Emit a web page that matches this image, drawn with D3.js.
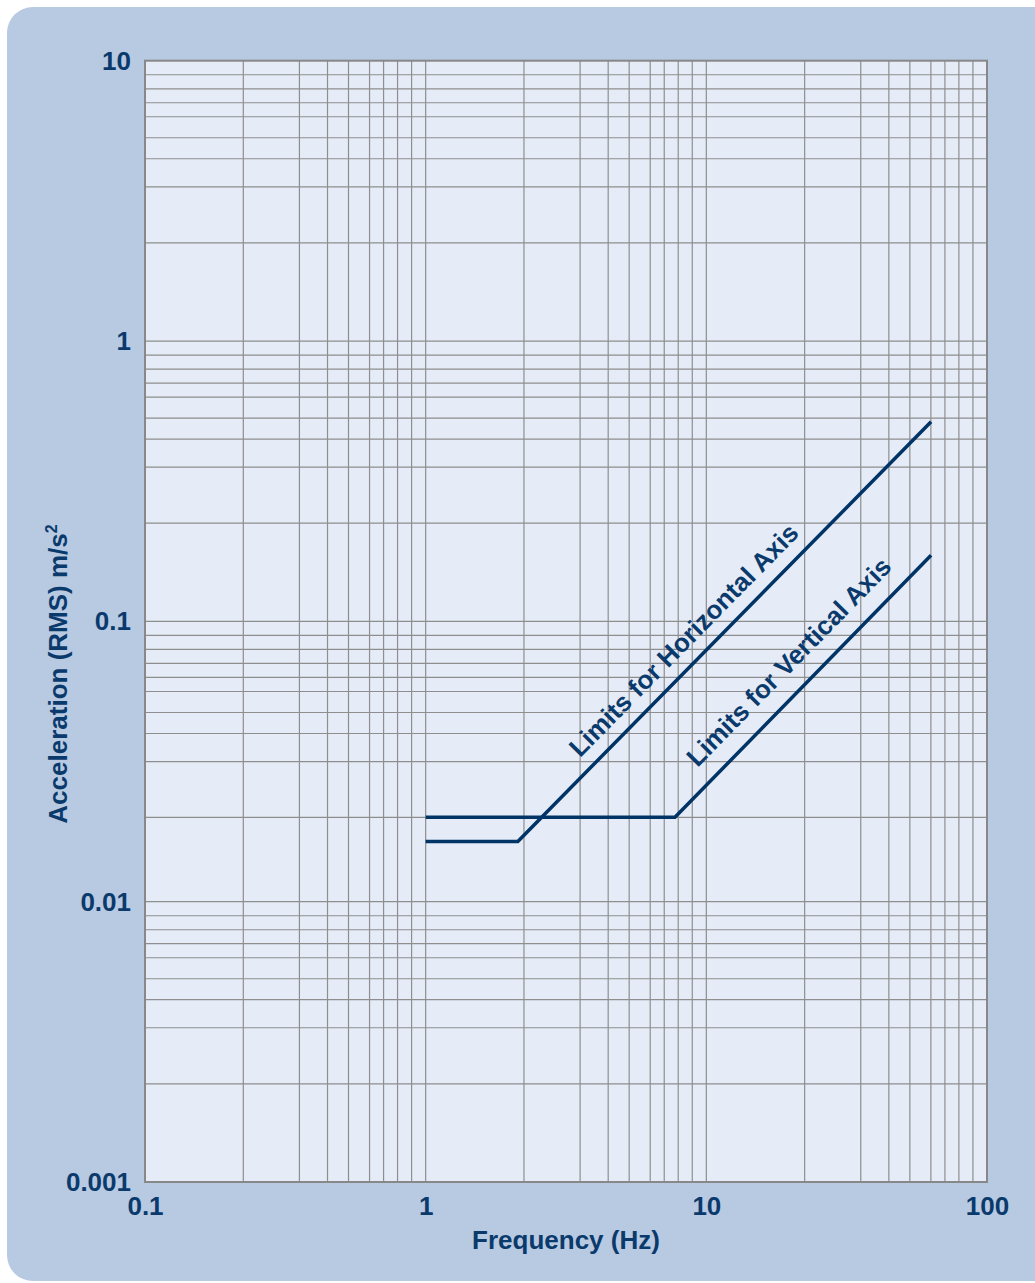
<!DOCTYPE html>
<html>
<head>
<meta charset="utf-8">
<script src="https://cdn.jsdelivr.net/npm/d3@7"></script>
<style>
  body { margin: 0; background: #fff; }
  svg { display: block; font-family: "Liberation Sans", Arial, sans-serif; }
</style>
</head>
<body>
<script>
// axis values
const freqTicks = [0.1, 1, 10, 100];
const accelTicks = [0.001, 0.01, 0.1, 1, 10];

// minor grid multipliers inside each decade (as drawn on the original sheet)
const minorA = [2.24, 3.55, 4.47, 5.31, 6.31, 7.08, 7.94, 8.91];
const minorB = [2.0, 3.16, 3.98, 4.73, 5.62, 6.31, 7.08, 7.94, 8.91];
const freqDecades = [0.1, 1, 10];
const accelDecades = [0.001, 0.01, 0.1, 1];
const accelDecadeMinor = [minorA, minorB, minorA, minorA];

// limit curves
const horizFreq = [1, 2.13, 63.2];
const horizAccel = [0.0164, 0.0164, 0.515];
const vertFreq = [1, 7.73, 63.2];
const vertAccel = [0.02, 0.02, 0.172];

const seriesNames = ["Limits for Horizontal Axis", "Limits for Vertical Axis"];
const labelFreq = [3.87, 10.4];   // where each label starts along its line

const width = 1035, height = 1283;
const margin = {top: 60.7, right: 48, bottom: 101, left: 145};
const navy = "#0a3a6c";
const fontSize = 26;

var svg = d3.select("body").append("svg")
  .attr("width", width)
  .attr("height", height)
  .attr("viewBox", [0, 0, width, height]);

// outer panel
svg.append("rect")
  .attr("x", 7).attr("y", 7)
  .attr("width", width + 40).attr("height", height - 9)
  .attr("rx", 26)
  .attr("fill", "#b8c9e2");

var x = d3.scaleLog()
  .domain([0.1, 100])
  .range([margin.left, width - margin.right]);

var y = d3.scaleLog()
  .domain([0.001, 10])
  .range([height - margin.bottom, margin.top]);

// plot background
svg.append("rect")
  .attr("x", x(0.1)).attr("y", y(10))
  .attr("width", x(100) - x(0.1)).attr("height", y(0.001) - y(10))
  .attr("fill", "#e5ecf7");

var xGrid = freqDecades.flatMap(d => [d].concat(minorA.map(m => d * m))).filter(d => d > 0.1);
var yGrid = accelDecades.flatMap((d, i) => [d].concat(accelDecadeMinor[i].map(m => d * m))).filter(d => d > 0.001);

var grid = g => g
  .attr("stroke", "#8e8e8e")
  .attr("stroke-width", 1.2)
  .call(g => g.append("g")
    .selectAll("line")
    .data(xGrid)
    .join("line")
      .attr("x1", d => x(d))
      .attr("x2", d => x(d))
      .attr("y1", y(10))
      .attr("y2", y(0.001)))
  .call(g => g.append("g")
    .selectAll("line")
    .data(yGrid)
    .join("line")
      .attr("y1", d => y(d))
      .attr("y2", d => y(d))
      .attr("x1", x(0.1))
      .attr("x2", x(100)));

svg.append("g").call(grid);

// frame
svg.append("rect")
  .attr("x", x(0.1)).attr("y", y(10))
  .attr("width", x(100) - x(0.1)).attr("height", y(0.001) - y(10))
  .attr("fill", "none")
  .attr("stroke", "#888")
  .attr("stroke-width", 2);

var fmt = d3.format("~g");

var xAxis = g => g
  .attr("transform", `translate(0,${y(0.001)})`)
  .call(d3.axisBottom(x).tickValues(freqTicks).tickFormat(fmt).tickSize(0).tickPadding(15))
  .call(g => g.select(".domain").remove());

var yAxis = g => g
  .attr("transform", `translate(${x(0.1)},0)`)
  .call(d3.axisLeft(y).tickValues(accelTicks).tickFormat(fmt).tickSize(0).tickPadding(14))
  .call(g => g.select(".domain").remove());

svg.append("g").call(xAxis);
svg.append("g").call(yAxis);

svg.selectAll(".tick text")
  .attr("fill", navy)
  .attr("font-family", "Liberation Sans, Arial, sans-serif")
  .attr("font-weight", "bold")
  .attr("font-size", fontSize);

// axis titles
svg.append("text")
  .attr("x", (x(0.1) + x(100)) / 2)
  .attr("y", 1249)
  .attr("text-anchor", "middle")
  .attr("fill", navy)
  .attr("font-weight", "bold")
  .attr("font-size", fontSize)
  .text("Frequency (Hz)");

var yTitle = svg.append("text")
  .attr("transform", "translate(67,674) rotate(-90)")
  .attr("text-anchor", "middle")
  .attr("fill", navy)
  .attr("font-weight", "bold")
  .attr("font-size", fontSize);
yTitle.append("tspan").text("Acceleration (RMS) m/s");
yTitle.append("tspan").attr("font-size", 16).attr("dy", -10).text("2");

// limit curves
var line = d3.line()
  .x(d => x(d[0]))
  .y(d => y(d[1]));

var series = [
  {name: seriesNames[0], points: d3.zip(horizFreq, horizAccel), labelAt: labelFreq[0], offset: 15},
  {name: seriesNames[1], points: d3.zip(vertFreq, vertAccel), labelAt: labelFreq[1], offset: 19}
];

svg.append("g")
  .selectAll("path")
  .data(series)
  .join("path")
    .attr("fill", "none")
    .attr("stroke", "#003366")
    .attr("stroke-width", 3.5)
    .attr("stroke-linejoin", "round")
    .attr("d", d => line(d.points));

// labels run along the rising part of each curve
series.forEach(s => {
  var p1 = s.points[1], p2 = s.points[2];
  var ang = Math.atan2(y(p2[1]) - y(p1[1]), x(p2[0]) - x(p1[0])) * 180 / Math.PI;
  var a = p1[1] * s.labelAt / p1[0];
  svg.append("text")
    .attr("transform", `translate(${x(s.labelAt)},${y(a)}) rotate(${ang}) translate(0,${-s.offset})`)
    .attr("fill", navy)
    .attr("font-weight", "bold")
    .attr("font-size", fontSize)
    .text(s.name);
});
</script>
</body>
</html>
